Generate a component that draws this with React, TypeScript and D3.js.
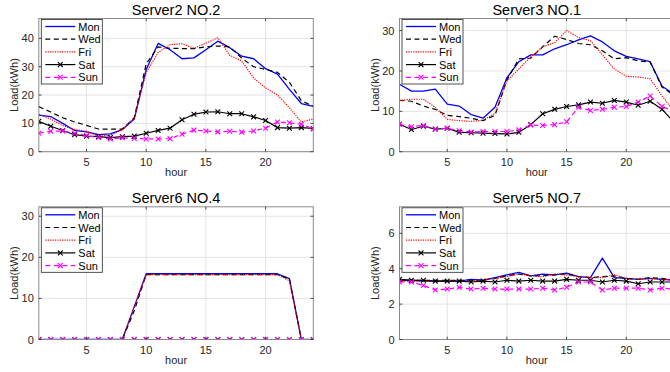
import React from "react";
import * as d3 from "d3";

const hours = [1, 2, 3, 4, 5, 6, 7, 8, 9, 10, 11, 12, 13, 14, 15, 16, 17, 18, 19, 20, 21, 22, 23, 24];
const xTicks = [5, 10, 15, 20];
const dayNames = ["Mon", "Wed", "Fri", "Sat", "Sun"];

// Server2 NO.2
const s2Mon = [12.9, 12.4, 10, 7.5, 7, 6, 6.3, 7.8, 11.5, 29, 38.2, 36, 32.8, 33.1, 36, 39, 36.7, 33.7, 32.8, 29.3, 27.4, 22, 17, 16];
const s2Wed = [15.9, 14, 12, 10.5, 9.3, 8, 8, 8, 12, 31, 37, 36.5, 36.4, 36.4, 37, 37.3, 37, 33, 30, 29, 28, 24.5, 18, 16];
const s2Fri = [13.2, 11.5, 9.2, 7.8, 7.2, 5.5, 5.8, 7.8, 12, 28, 35, 37.8, 38.1, 36.5, 38.3, 40.2, 34, 32, 26, 22.5, 20, 15.5, 10.5, 11.5];
const s2Sat = [10.7, 9, 7.5, 6, 5.5, 5.3, 5, 5.3, 5.5, 6.5, 7.5, 8.3, 11.3, 13.2, 14, 14.1, 13.4, 13.4, 12.3, 11, 8.5, 8.3, 8.5, 8.2];
const s2Sun = [6.5, 7.2, 7.3, 6.5, 5.7, 5, 4.5, 4.9, 4.7, 4.5, 4.5, 4.6, 6.2, 7.6, 7.3, 7, 7.2, 6.9, 7.3, 8.3, 10.5, 10.2, 9.7, 8];
const s2YTicks = [0, 10, 20, 30, 40];

// Server3 NO.1
const s3Mon = [16.7, 15, 15, 15.5, 11.8, 11.3, 9.2, 8.3, 11, 18.3, 22.3, 24, 24, 25.5, 26.5, 27.7, 28.7, 27.2, 25, 23.6, 23, 22.3, 16.2, 14.3];
const s3Wed = [12.7, 12.5, 11.3, 10.5, 9, 8.7, 8.3, 7.7, 9, 17.8, 23, 23.2, 26, 28.6, 27.8, 26.8, 26.5, 25, 23, 23.3, 22.5, 22.2, 16, 14];
const s3Fri = [12.7, 13, 13, 11, 8, 7.7, 7.5, 7.8, 9.5, 17.5, 20.5, 23.5, 26, 27, 30, 28.3, 27.5, 24, 20.5, 18.7, 18.5, 18.1, 13.8, 10];
const s3Sat = [6.8, 5.5, 6.3, 5.6, 5.8, 4.8, 4.7, 4.6, 4.5, 4.4, 4.8, 6.7, 9.4, 10.5, 11.2, 11.6, 12.3, 12, 12.7, 12.3, 11.5, 12.5, 10.5, 7.3];
const s3Sun = [6.8, 6.2, 6.5, 5.6, 5.8, 5.2, 4.9, 5, 5, 5, 5.4, 6.6, 6.5, 6.7, 7.4, 11, 10.2, 10.5, 11, 11.2, 12.3, 13.8, 11.2, 10];
const s3YTicks = [0, 10, 20, 30];

// Server6 NO.4
const s6Mon = [0, 0, 0, 0, 0, 0, 0, 0, 8, 16, 16, 16, 16, 16, 16, 16, 16, 16, 16, 16, 16, 14.8, 0, 0];
const s6Wed = [0, 0, 0, 0, 0, 0, 0, 0, 7, 15.8, 15.8, 15.8, 15.8, 15.8, 15.8, 15.8, 15.8, 15.8, 15.8, 15.8, 15.8, 14.7, 0, 0];
const s6Fri = [0, 0, 0, 0, 0, 0, 0, 0, 8, 15.8, 15.8, 15.8, 15.8, 15.8, 15.8, 15.8, 15.8, 15.8, 15.8, 15.8, 15.8, 14.3, 0, 0];
const s6Sat = [0, 0, 0, 0, 0, 0, 0, 0, 0, 0, 0, 0, 0, 0, 0, 0, 0, 0, 0, 0, 0, 0, 0, 0];
const s6Sun = [0, 0, 0, 0, 0, 0, 0, 0, 0, 0, 0, 0, 0, 0, 0, 0, 0, 0, 0, 0, 0, 0, 0, 0];
const s6YTicks = [0, 10, 20, 30];

// Server5 NO.7
const s5Mon = [3.35, 3.35, 3.3, 3.3, 3.3, 3.3, 3.4, 3.35, 3.5, 3.65, 3.8, 3.6, 3.7, 3.65, 3.75, 3.55, 3.5, 4.6, 3.5, 3.45, 3.4, 3.45, 3.4, 3.35];
const s5Wed = [3.35, 3.35, 3.35, 3.35, 3.35, 3.35, 3.35, 3.35, 3.45, 3.6, 3.7, 3.6, 3.6, 3.65, 3.7, 3.55, 3.5, 3.55, 3.6, 3.45, 3.4, 3.5, 3.45, 3.35];
const s5Fri = [3.3, 3.3, 3.3, 3.3, 3.3, 3.3, 3.3, 3.35, 3.45, 3.55, 3.7, 3.6, 3.55, 3.7, 3.65, 3.55, 3.5, 3.5, 3.65, 3.45, 3.4, 3.45, 3.4, 3.35];
const s5Sat = [3.4, 3.35, 3.35, 3.3, 3.3, 3.3, 3.25, 3.3, 3.25, 3.35, 3.3, 3.35, 3.3, 3.3, 3.4, 3.35, 3.35, 3.25, 3.35, 3.3, 3.15, 3.25, 3.25, 3.25];
const s5Sun = [3.25, 3.25, 3.05, 2.8, 2.85, 2.95, 2.85, 2.9, 2.85, 2.85, 2.85, 2.85, 2.9, 2.8, 2.95, 3.25, 3.25, 2.8, 2.9, 2.9, 2.9, 2.8, 2.9, 2.85];
const s5YTicks = [0, 2, 4, 6];

type Style = { color: string; dash?: string; width: number; marker: boolean };
const styles: Style[] = [
  { color: "#0000ff", width: 1.3, marker: false },
  { color: "#000000", dash: "5,3.5", width: 1.2, marker: false },
  { color: "#ff0000", dash: "1.2,1.2", width: 1.2, marker: false },
  { color: "#000000", width: 1.2, marker: true },
  { color: "#ff00ff", dash: "5,3.5", width: 1.2, marker: true },
];

const FONT = "'Liberation Sans', Arial, Helvetica, sans-serif";
const AXIS = "#262626";

type PanelProps = {
  id: string;
  title: string;
  series: number[][];
  yMax: number;
  yTicks: number[];
  left: number;
  right: number;
  top: number;
  bottom: number;
};

function Marker({ x, y, color }: { x: number; y: number; color: string }) {
  const r = 2.4;
  return (
    <path d={`M${x - r},${y - r}L${x + r},${y + r}M${x - r},${y + r}L${x + r},${y - r}`} stroke={color} strokeWidth={1.1} fill="none" />
  );
}

function Panel({ id, title, series, yMax, yTicks, left, right, top, bottom }: PanelProps) {
  const x = d3.scaleLinear().domain([1, 24]).range([left, right]);
  const y = d3.scaleLinear().domain([0, yMax]).range([bottom, top]);
  const line = d3
    .line<number>()
    .x((_, i) => x(hours[i]))
    .y((d) => y(d));
  const tk = 2.8;
  const lgX = left + 2.5;
  const lgY = top + 1;
  const lgW = 61;
  const lgH = 64.5;
  return (
    <g>
      <defs>
        <clipPath id={id}>
          <rect x={left} y={top} width={right - left} height={bottom - top} />
        </clipPath>
      </defs>
      <rect x={left} y={top} width={right - left} height={bottom - top} fill="#fff" />
      {/* grid */}
      {xTicks.map((t) => (
        <line key={"gx" + t} x1={x(t)} x2={x(t)} y1={top} y2={bottom} stroke="#e3e3e3" strokeWidth={1} />
      ))}
      {yTicks.map((t) => (
        <line key={"gy" + t} x1={left} x2={right} y1={y(t)} y2={y(t)} stroke="#e3e3e3" strokeWidth={1} />
      ))}
      {/* data */}
      <g clipPath={`url(#${id})`}>
        {series.map((s, i) => (
          <path key={"l" + i} d={line(s) || ""} fill="none" stroke={styles[i].color} strokeWidth={styles[i].width} strokeDasharray={styles[i].dash} strokeLinejoin="round" />
        ))}
        {series.map((s, i) =>
          styles[i].marker
            ? s.map((v, j) => <Marker key={"m" + i + "-" + j} x={x(hours[j])} y={y(v)} color={styles[i].color} />)
            : null
        )}
      </g>
      {/* box */}
      <rect x={left} y={top} width={right - left} height={bottom - top} fill="none" stroke="#8a8a8a" strokeWidth={1} />
      {/* ticks */}
      {xTicks.map((t) => (
        <g key={"tx" + t}>
          <line x1={x(t)} x2={x(t)} y1={bottom} y2={bottom - tk} stroke={AXIS} strokeWidth={0.8} />
          <line x1={x(t)} x2={x(t)} y1={top} y2={top + tk} stroke={AXIS} strokeWidth={0.8} />
          <text x={x(t)} y={bottom + 14} fontSize={11} fill={AXIS} textAnchor="middle" fontFamily={FONT}>
            {t}
          </text>
        </g>
      ))}
      {yTicks.map((t) => (
        <g key={"ty" + t}>
          <line x1={left} x2={left + tk} y1={y(t)} y2={y(t)} stroke={AXIS} strokeWidth={0.8} />
          <line x1={right} x2={right - tk} y1={y(t)} y2={y(t)} stroke={AXIS} strokeWidth={0.8} />
          <text x={left - 5} y={y(t) + 4} fontSize={11} fill={AXIS} textAnchor="end" fontFamily={FONT}>
            {t}
          </text>
        </g>
      ))}
      <text x={(left + right) / 2} y={bottom + 24.5} fontSize={11} fill={AXIS} textAnchor="middle" fontFamily={FONT}>
        hour
      </text>
      <text
        transform={`translate(${left - 21},${(top + bottom) / 2}) rotate(-90)`}
        fontSize={11}
        fill={AXIS}
        textAnchor="middle"
        fontFamily={FONT}
      >
        Load(kWh)
      </text>
      <text x={(left + right) / 2} y={top - 3.5} fontSize={14.5} fill="#000" textAnchor="middle" fontFamily={FONT}>
        {title}
      </text>
      {/* legend */}
      <rect x={lgX} y={lgY} width={lgW} height={lgH} fill="#fff" stroke="#262626" strokeWidth={0.8} />
      {dayNames.map((n, i) => {
        const yy = lgY + 7 + i * 12.7;
        const st = styles[i];
        return (
          <g key={"lg" + n}>
            <line x1={lgX + 4} x2={lgX + 34} y1={yy} y2={yy} stroke={st.color} strokeWidth={st.width} strokeDasharray={st.dash} />
            {st.marker ? <Marker x={lgX + 19} y={yy} color={st.color} /> : null}
            <text x={lgX + 37} y={yy + 4} fontSize={11} fill="#000" fontFamily={FONT}>
              {n}
            </text>
          </g>
        );
      })}
    </g>
  );
}

export default function App() {
  const L1 = 38.8,
    R1 = 313.3,
    L2 = 399.5,
    R2 = 674;
  const T1 = 18.5,
    B1 = 151.7,
    T2 = 206.8,
    B2 = 339.5;
  return (
    <svg width={670} height={372} style={{ position: "absolute", left: 0, top: 0, background: "#fff" }}>
      <rect x={0} y={0} width={670} height={372} fill="#fff" />
      <Panel id="c1" title="Server2 NO.2" series={[s2Mon, s2Wed, s2Fri, s2Sat, s2Sun]} yMax={47} yTicks={s2YTicks} left={L1} right={R1} top={T1} bottom={B1} />
      <Panel id="c2" title="Server3 NO.1" series={[s3Mon, s3Wed, s3Fri, s3Sat, s3Sun]} yMax={33} yTicks={s3YTicks} left={L2} right={R2} top={T1} bottom={B1} />
      <Panel id="c3" title="Server6 NO.4" series={[s6Mon, s6Wed, s6Fri, s6Sat, s6Sun]} yMax={32.3} yTicks={s6YTicks} left={L1} right={R1} top={T2} bottom={B2} />
      <Panel id="c4" title="Server5 NO.7" series={[s5Mon, s5Wed, s5Fri, s5Sat, s5Sun]} yMax={7.5} yTicks={s5YTicks} left={L2} right={R2} top={T2} bottom={B2} />
    </svg>
  );
}
